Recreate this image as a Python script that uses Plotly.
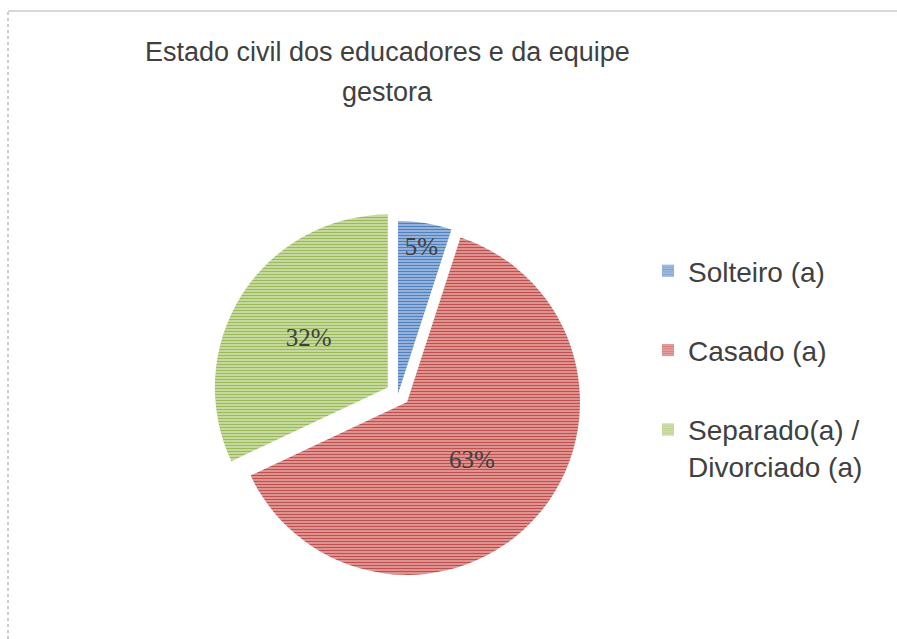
import plotly.graph_objects as go

# Data
labels = ["Solteiro (a)", "Casado (a)", "Separado(a) /<br>Divorciado (a)"]
values = [5, 63, 32]
pulls = [0.0, 0.07, 0.07]
base_colors = ["#4F81BD", "#C0504D", "#9BBB59"]
light_colors = ["#A9C1E4", "#E9A9A7", "#D3E2B4"]

W, H = 897, 639

fig = go.Figure()

fig.add_trace(go.Pie(
    labels=labels,
    values=values,
    pull=pulls,
    sort=False,
    direction="clockwise",
    rotation=0,
    showlegend=False,
    texttemplate="%{percent:.0%}",
    textposition="inside",
    insidetextorientation="horizontal",
    textfont=dict(family="Liberation Serif", size=25, color="#404040"),
    marker=dict(
        colors=light_colors,
        line=dict(width=0),
        pattern=dict(shape="-", fgcolor=base_colors, bgcolor=light_colors,
                     size=3, solidity=0.5, fillmode="replace"),
    ),
    domain=dict(x=[213 / W, 583 / W], y=[1 - 579 / H, 1 - 209 / H]),
    hoverinfo="label+percent",
))

# Legend entries (one per category, drawn as legend-only bars)
for i, lab in enumerate(labels):
    fig.add_trace(go.Bar(
        x=[None], y=[None], name=lab, legendgroup=f"g{i}",
        marker=dict(color=light_colors[i],
                    pattern=dict(shape="-", fgcolor=base_colors[i], bgcolor=light_colors[i],
                                 size=3, solidity=0.5),
                    line=dict(width=0)),
        showlegend=True, hoverinfo="skip",
    ))

title_lines = ["Estado civil dos educadores e da equipe", "gestora"]
annotations = []
for k, t in enumerate(title_lines):
    annotations.append(dict(
        text=t, x=387 / W, y=1 - (52 + 40 * k) / H, xref="paper", yref="paper",
        xanchor="center", yanchor="middle", showarrow=False,
        font=dict(family="Liberation Sans", size=27, color="#404040"),
    ))

fig.update_layout(
    width=W, height=H,
    margin=dict(l=0, r=0, t=0, b=0),
    paper_bgcolor="white",
    plot_bgcolor="white",
    xaxis=dict(visible=False),
    yaxis=dict(visible=False),
    annotations=annotations,
    legend=dict(
        x=648 / W, y=1 - 246 / H, xanchor="left", yanchor="top",
        font=dict(family="Liberation Sans", size=28, color="#404040"),
        valign="top", tracegroupgap=40, traceorder="grouped",
        bgcolor="rgba(0,0,0,0)",
    ),
    shapes=[
        dict(type="line", xref="paper", yref="paper", x0=8 / W, x1=8 / W, y0=0, y1=1 - 11 / H,
             line=dict(color="#9A9A9A", width=1, dash="dot")),
        dict(type="line", xref="paper", yref="paper", x0=8 / W, x1=1, y0=1 - 11 / H, y1=1 - 11 / H,
             line=dict(color="#B0B0B0", width=1)),
    ],
)

fig.write_html("out.html")
